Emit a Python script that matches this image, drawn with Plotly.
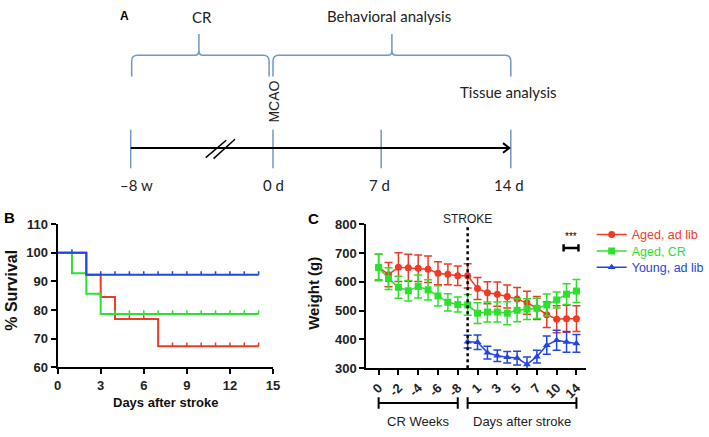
import plotly.graph_objects as go

W, H = 709, 437

# ---------------- Panel B data: Kaplan-Meier survival ----------------
young_days = [0, 2, 14]
young_surv = [100, 92.3, 92.3]
cr_days = [0, 1, 2, 3, 14]
cr_surv = [100, 92.9, 85.7, 78.6, 78.6]
adlib_days = [0, 2, 3, 4, 7, 14]
adlib_surv = [100, 92.3, 84.6, 76.9, 67.3, 67.3]

young_cens_days = [1, 3, 4, 5, 6, 7, 8, 9, 10, 11, 12, 13, 14]
young_cens = [100, 92.3, 92.3, 92.3, 92.3, 92.3, 92.3, 92.3, 92.3, 92.3, 92.3, 92.3, 92.3]
cr_cens_days = [4, 5, 6, 7, 8, 9, 10, 11, 12, 13, 14]
cr_cens = [78.6, 78.6, 78.6, 78.6, 78.6, 78.6, 78.6, 78.6, 78.6, 78.6, 78.6]
adlib_cens_days = [5, 6, 8, 9, 10, 11, 12, 13, 14]
adlib_cens = [76.9, 76.9, 67.3, 67.3, 67.3, 67.3, 67.3, 67.3, 67.3]

# ---------------- Panel C data: body weight ----------------
weight_categories = ["0", "-1", "-2", "-3", "-4", "-5", "-6", "-7", "-8",
                     "stroke", "1", "2", "3", "4", "5", "6", "7", "8", "10", "12", "14"]
weight_tick_labels = ["0", "-2", "-4", "-6", "-8", "1", "3", "5", "7", "10", "14"]
aged_adlib = [651, 625, 651, 649, 647, 644, 630, 626, 621, 621, 577, 562, 557, 549, 540, 527, 509, 486, 470, 472, 472]
aged_adlib_err = [45, 42, 50, 47, 46, 46, 40, 36, 34, 42, 38, 38, 42, 40, 40, 40, 40, 45, 47, 47, 45]
aged_cr = [650, 611, 581, 569, 584, 572, 551, 529, 521, 520, 491, 495, 495, 491, 501, 505, 508, 520, 537, 557, 568]
aged_cr_err = [46, 38, 38, 36, 40, 35, 35, 30, 26, 36, 36, 35, 35, 40, 40, 36, 35, 38, 28, 36, 40]
young_adlib_cats = ["stroke", "1", "2", "3", "4", "5", "6", "7", "8", "10", "12", "14"]
young_adlib = [392, 390, 354, 343, 338, 335, 313, 340, 380, 397, 391, 386]
young_adlib_err = [22, 25, 22, 20, 20, 24, 26, 22, 32, 35, 36, 31]
group_names = ["CR Weeks", "Days after stroke"]
group_first = ["0", "stroke"]
group_last = ["-8", "14"]

# ---------------- Panel A data: timeline ----------------
timeline_labels = ["\u20138 w", "0 d", "7 d", "14 d"]
phase_labels = ["CR", "Behavioral analysis"]

RED = "#ef3a26"
GREEN = "#2ee02e"
BLUE = "#2345e0"
BRACE = "#6f98c7"
FONT = "Liberation Sans, Arial, sans-serif"

def idx(c):
    return weight_categories.index(c)

def px(x):
    return x / W

def py(y):
    return 1 - y / H

fig = go.Figure()

# Panel B traces
for days, surv, cdays, cvals, col in [
    (adlib_days, adlib_surv, adlib_cens_days, adlib_cens, RED),
    (cr_days, cr_surv, cr_cens_days, cr_cens, GREEN),
    (young_days, young_surv, young_cens_days, young_cens, BLUE),
]:
    fig.add_trace(go.Scatter(x=days, y=surv, mode="lines", line=dict(color=col, width=2, shape="hv"),
                             xaxis="x", yaxis="y", showlegend=False, cliponaxis=False))
    # censor tick marks drawn upward from the curve
    fig.add_trace(go.Scatter(x=cdays, y=cvals, mode="markers",
                             marker=dict(size=1, color=col, opacity=0),
                             error_y=dict(type="constant", value=1.3, valueminus=0, symmetric=False,
                                          width=0, thickness=1.5, color=col),
                             xaxis="x", yaxis="y", showlegend=False, cliponaxis=False))

# Panel C traces
xs_all = [idx(c) for c in weight_categories]
xs_young = [idx(c) for c in young_adlib_cats]
legend_ids = ["legend", "legend2", "legend3"]
for lg, (name, xs, ys, err, col, sym) in zip(legend_ids, [
    ("Aged, ad lib", xs_all, aged_adlib, aged_adlib_err, RED, "circle"),
    ("Aged, CR", xs_all, aged_cr, aged_cr_err, GREEN, "square"),
    ("Young, ad lib", xs_young, young_adlib, young_adlib_err, BLUE, "triangle-up"),
]):
    fig.add_trace(go.Scatter(
        x=xs, y=ys, mode="lines+markers",
        name='<span style="color:%s">%s</span>' % (col, name),
        line=dict(color=col, width=1.5),
        marker=dict(symbol=sym, size=7, color=col),
        error_y=dict(type="data", array=err, color=col, thickness=1.5, width=4),
        xaxis="x2", yaxis="y2", cliponaxis=False, legend=lg))

axis_common = dict(showgrid=False, zeroline=False, showline=True, linecolor="black", linewidth=2,
                   ticks="outside", ticklen=5, tickwidth=2, tickcolor="black",
                   tickfont=dict(family=FONT, size=13, color="#222", weight="bold"))

legend_rows = [236, 253, 270]
legend_common = dict(x=px(603), xanchor="left", yanchor="middle", bgcolor="rgba(0,0,0,0)",
                     font=dict(family=FONT, size=12.5), itemwidth=30, borderwidth=0)

fig.update_layout(
    width=W, height=H, margin=dict(l=0, r=0, t=0, b=0),
    paper_bgcolor="white", plot_bgcolor="white",
    xaxis=dict(domain=[px(55), px(276)], range=[0, 15], tickvals=[0, 3, 6, 9, 12, 15], anchor="y", **axis_common),
    yaxis=dict(domain=[py(373), py(225)], range=[60, 110], tickvals=[60, 70, 80, 90, 100, 110], anchor="x", **axis_common),
    xaxis2=dict(domain=[px(371.7), px(597)], range=[-1.25, 20.95],
                tickvals=[idx(t) for t in weight_tick_labels], ticktext=weight_tick_labels,
                tickangle=-45, anchor="y2", **axis_common),
    yaxis2=dict(domain=[py(374), py(225)], range=[300, 800], tickvals=[300, 400, 500, 600, 700, 800],
                anchor="x2", **axis_common),
    legend=dict(y=py(legend_rows[0]), **legend_common),
    legend2=dict(y=py(legend_rows[1]), **legend_common),
    legend3=dict(y=py(legend_rows[2]), **legend_common),
)

shapes = []
ann = []

# Panel B / C labels
ann.append(dict(text="B", x=px(6), y=py(218), xref="paper", yref="paper", showarrow=False,
                font=dict(family=FONT, size=15, color="black", weight="bold")))
ann.append(dict(text="C", x=px(318), y=py(219), xref="paper", yref="paper", showarrow=False,
                font=dict(family=FONT, size=15, color="black", weight="bold")))
ann.append(dict(text="% Survival", x=px(8), y=py(293), xref="paper", yref="paper", showarrow=False,
                textangle=-90, font=dict(family=FONT, size=16, color="#111", weight="bold")))
ann.append(dict(text="Days after stroke", x=px(166), y=py(410), xref="paper", yref="paper", showarrow=False,
                font=dict(family=FONT, size=13, color="#111", weight="bold")))
ann.append(dict(text="Weight (g)", x=px(318), y=py(296), xref="paper", yref="paper", showarrow=False,
                textangle=-90, font=dict(family=FONT, size=15, color="#111", weight="bold")))

# Stroke line
s = idx("stroke")
shapes.append(dict(type="line", xref="x2", yref="y2", x0=s, x1=s, y0=300, y1=792,
                   line=dict(color="black", width=2.5, dash="dot")))
ann.append(dict(text="STROKE", x=s, y=py(220), xref="x2", yref="paper", showarrow=False,
                font=dict(family=FONT, size=12, color="#222")))

# Significance bracket
shapes.append(dict(type="line", xref="x2", yref="y2", x0=18.7, x1=20.2, y0=718, y1=718, line=dict(color="black", width=2.5)))
shapes.append(dict(type="line", xref="x2", yref="y2", x0=18.7, x1=18.7, y0=705, y1=731, line=dict(color="black", width=2.5)))
shapes.append(dict(type="line", xref="x2", yref="y2", x0=20.2, x1=20.2, y0=705, y1=731, line=dict(color="black", width=2.5)))
ann.append(dict(text="***", x=19.45, y=756, xref="x2", yref="y2", showarrow=False,
                font=dict(family=FONT, size=10, color="black")))

# Group brackets below panel C
for gname, g0, g1 in zip(group_names, group_first, group_last):
    a, b = idx(g0), idx(g1)
    shapes.append(dict(type="line", xref="x2", yref="paper", x0=a, x1=b, y0=py(410), y1=py(410),
                       line=dict(color="black", width=2)))
    for xx in (a, b):
        shapes.append(dict(type="line", xref="x2", yref="paper", x0=xx, x1=xx, y0=py(404), y1=py(416),
                           line=dict(color="black", width=2)))
    ann.append(dict(text=gname, x=(a + b) / 2, y=py(429), xref="x2", yref="paper", showarrow=False,
                    font=dict(family=FONT, size=13, color="#222")))

# ---------------- Panel A: schematic timeline ----------------
AF = "Lato, Open Sans, sans-serif"
ann.append(dict(text="A", x=px(124), y=py(9), xref="paper", yref="paper", showarrow=False,
                font=dict(family=FONT, size=12, color="black", weight="bold")))

def brace(x0, x1, xm, ybot=72, yline=50, ytop=28, r=6):
    path = "M %f,%f L %f,%f " % (px(x0), py(ybot), px(x0), py(yline + r))
    path += "Q %f,%f %f,%f " % (px(x0), py(yline), px(x0 + r), py(yline))
    path += "L %f,%f " % (px(xm - 4), py(yline))
    path += "Q %f,%f %f,%f " % (px(xm), py(yline), px(xm), py(yline - 5))
    path += "L %f,%f L %f,%f " % (px(xm), py(ytop), px(xm), py(yline - 5))
    path += "Q %f,%f %f,%f " % (px(xm), py(yline), px(xm + 4), py(yline))
    path += "L %f,%f " % (px(x1 - r), py(yline))
    path += "Q %f,%f %f,%f " % (px(x1), py(yline), px(x1), py(yline + r))
    path += "L %f,%f" % (px(x1), py(ybot))
    return dict(type="path", xref="paper", yref="paper", path=path, line=dict(color=BRACE, width=1.5))

brace_spans = [(131, 272, 200), (276, 520, 398)]
phase_text_pos = [(203, 10), (395, 9)]
for (x0, x1, xm), lab, (tx, ty) in zip(brace_spans, phase_labels, phase_text_pos):
    shapes.append(brace(x0, x1, xm))
    ann.append(dict(text=lab, x=px(tx), y=py(ty), xref="paper", yref="paper", showarrow=False,
                    font=dict(family=AF, size=15, color="#222")))

ann.append(dict(text="Tissue analysis", x=px(518), y=py(88), xref="paper", yref="paper", showarrow=False,
                font=dict(family=AF, size=15, color="#222")))
ann.append(dict(text="MCAO", x=px(277), y=py(98), xref="paper", yref="paper", showarrow=False,
                textangle=-90, font=dict(family=FONT, size=14, color="#222")))

tick_x = [130, 276, 387, 520]
label_x = [136, 277, 385, 518]
for tx, lx, lab in zip(tick_x, label_x, timeline_labels):
    shapes.append(dict(type="line", xref="paper", yref="paper", x0=px(tx), x1=px(tx), y0=py(127), y1=py(167),
                       line=dict(color=BRACE, width=1.5)))
    ann.append(dict(text=lab, x=px(lx), y=py(184), xref="paper", yref="paper",
                    showarrow=False, font=dict(family=AF, size=15, color="#222")))

# arrow
shapes.append(dict(type="line", xref="paper", yref="paper", x0=px(130), x1=px(518), y0=py(146), y1=py(146),
                   line=dict(color="black", width=2)))
shapes.append(dict(type="path", xref="paper", yref="paper",
                   path="M %f,%f L %f,%f L %f,%f" % (px(512), py(141), px(518.5), py(146), px(512), py(151)),
                   line=dict(color="black", width=2)))
# break marks
for (ax0, ay0, ax1, ay1) in [(207, 156, 228, 138), (215, 157, 237, 137)]:
    shapes.append(dict(type="line", xref="paper", yref="paper", x0=px(ax0), x1=px(ax1), y0=py(ay0), y1=py(ay1),
                       line=dict(color="black", width=1.5)))

for a in ann:
    a.setdefault("xanchor", "center")
    a.setdefault("yanchor", "middle")

fig.update_layout(shapes=shapes, annotations=ann)
fig.write_html("out.html", config={"displayModeBar": False},
               post_script="document.body.style.margin='0';document.body.style.overflow='hidden';")
